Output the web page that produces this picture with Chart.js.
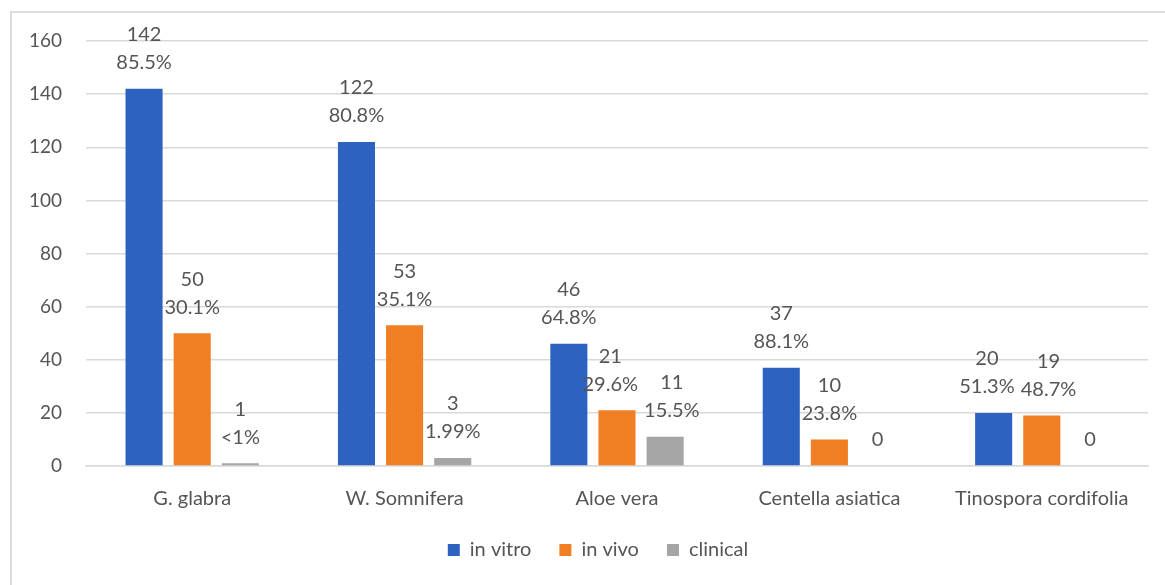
<!DOCTYPE html>
<html>
<head>
<meta charset="utf-8">
<script src="https://cdn.jsdelivr.net/npm/chart.js@4"></script>
<style>
  html, body { margin: 0; padding: 0; background: #fff; overflow: hidden; }
  #frame { position: absolute; left: 10px; top: 11px; width: 1200px; height: 620px; border: 2px solid #dcdcdc; }
  #wrap { position: absolute; left: 0; top: 0; width: 1165px; height: 585px; }
</style>
</head>
<body>
<div id="frame"></div>
<div id="wrap"><canvas id="chart"></canvas></div>
<script>
const categories = ["G. glabra", "W. Somnifera", "Aloe vera", "Centella asiatica", "Tinospora cordifolia"];
const inVitro = [142, 122, 46, 37, 20];
const inVivo = [50, 53, 21, 10, 19];
const clinical = [1, 3, 11, 0, 0];
const inVitroPct = ["85.5%", "80.8%", "64.8%", "88.1%", "51.3%"];
const inVivoPct = ["30.1%", "35.1%", "29.6%", "23.8%", "48.7%"];
const clinicalPct = ["<1%", "1.99%", "15.5%", "", ""];
const yTicks = [0, 20, 40, 60, 80, 100, 120, 140, 160];

const textColor = "#555555";
const fontFamily = "Lato, 'Open Sans', sans-serif";

// two-line labels above each bar: count, then share.
// labels at the same height that would collide get nudged apart
const barLabels = {
  id: "barLabels",
  afterLayout(chart) {
    // legend sits a bit right of the plot centre, under the whole frame
    chart.legend.left += 24;
    chart.legend.right += 24;
  },
  afterDatasetsDraw(chart) {
    const ctx = chart.ctx;
    const pcts = [inVitroPct, inVivoPct, clinicalPct];
    ctx.save();
    ctx.fillStyle = textColor;
    ctx.font = "20px " + fontFamily;
    ctx.textAlign = "center";
    ctx.textBaseline = "middle";
    const n = chart.data.labels.length;
    for (let i = 0; i < n; i++) {
      const items = chart.data.datasets.map((ds, di) => {
        const bar = chart.getDatasetMeta(di).data[i];
        const v = String(ds.data[i]);
        const p = pcts[di][i];
        const lines = p ? [v, p] : [v];
        const w = Math.max(...lines.map(t => ctx.measureText(t).width));
        return { x: bar.x, y: bar.y, lines, w };
      });
      for (let k = 1; k < items.length; k++) {
        const a = items[k - 1], b = items[k];
        if (Math.abs(a.y - b.y) > 40) continue;
        const overlap = (a.x + a.w / 2 + 6) - (b.x - b.w / 2);
        if (overlap > 0) { a.x -= overlap / 2; b.x += overlap / 2; }
      }
      items.forEach(it => {
        if (it.lines.length === 2) {
          ctx.fillText(it.lines[0], it.x, it.y - 54);
          ctx.fillText(it.lines[1], it.x, it.y - 26);
        } else {
          ctx.fillText(it.lines[0], it.x, it.y - 26);
        }
      });
    }
    ctx.restore();
  }
};

new Chart(document.getElementById("chart"), {
  type: "bar",
  data: {
    labels: categories,
    datasets: [
      { label: "in vitro", data: inVitro, backgroundColor: "#2E62C0" },
      { label: "in vivo", data: inVivo, backgroundColor: "#F07E22" },
      { label: "clinical", data: clinical, backgroundColor: "#A5A5A5" }
    ]
  },
  options: {
    responsive: true,
    maintainAspectRatio: false,
    animation: false,
    categoryPercentage: 0.68,
    barPercentage: 0.77,
    layout: { padding: { left: 0, right: 17, top: 41, bottom: 15 } },
    plugins: {
      legend: {
        position: "bottom",
        labels: {
          boxWidth: 12,
          boxHeight: 12,
          color: textColor,
          font: { family: fontFamily, size: 20 },
          padding: 28
        }
      },
      tooltip: { enabled: false }
    },
    scales: {
      x: {
        grid: { display: false },
        border: { display: true, color: "#d9d9d9", width: 1.5 },
        ticks: { color: textColor, font: { family: fontFamily, size: 20 }, padding: 13 },
        afterFit(scale) { scale.height = 46; }
      },
      y: {
        min: 0,
        max: 160,
        afterBuildTicks(scale) { scale.ticks = yTicks.map(v => ({ value: v })); },
        grid: { color: "#d9d9d9", lineWidth: 1.5, drawTicks: false },
        border: { display: false },
        ticks: { color: textColor, font: { family: fontFamily, size: 19 }, padding: 24 },
        afterFit(scale) { scale.width = 86; }
      }
    }
  },
  plugins: [barLabels]
});
</script>
</body>
</html>
